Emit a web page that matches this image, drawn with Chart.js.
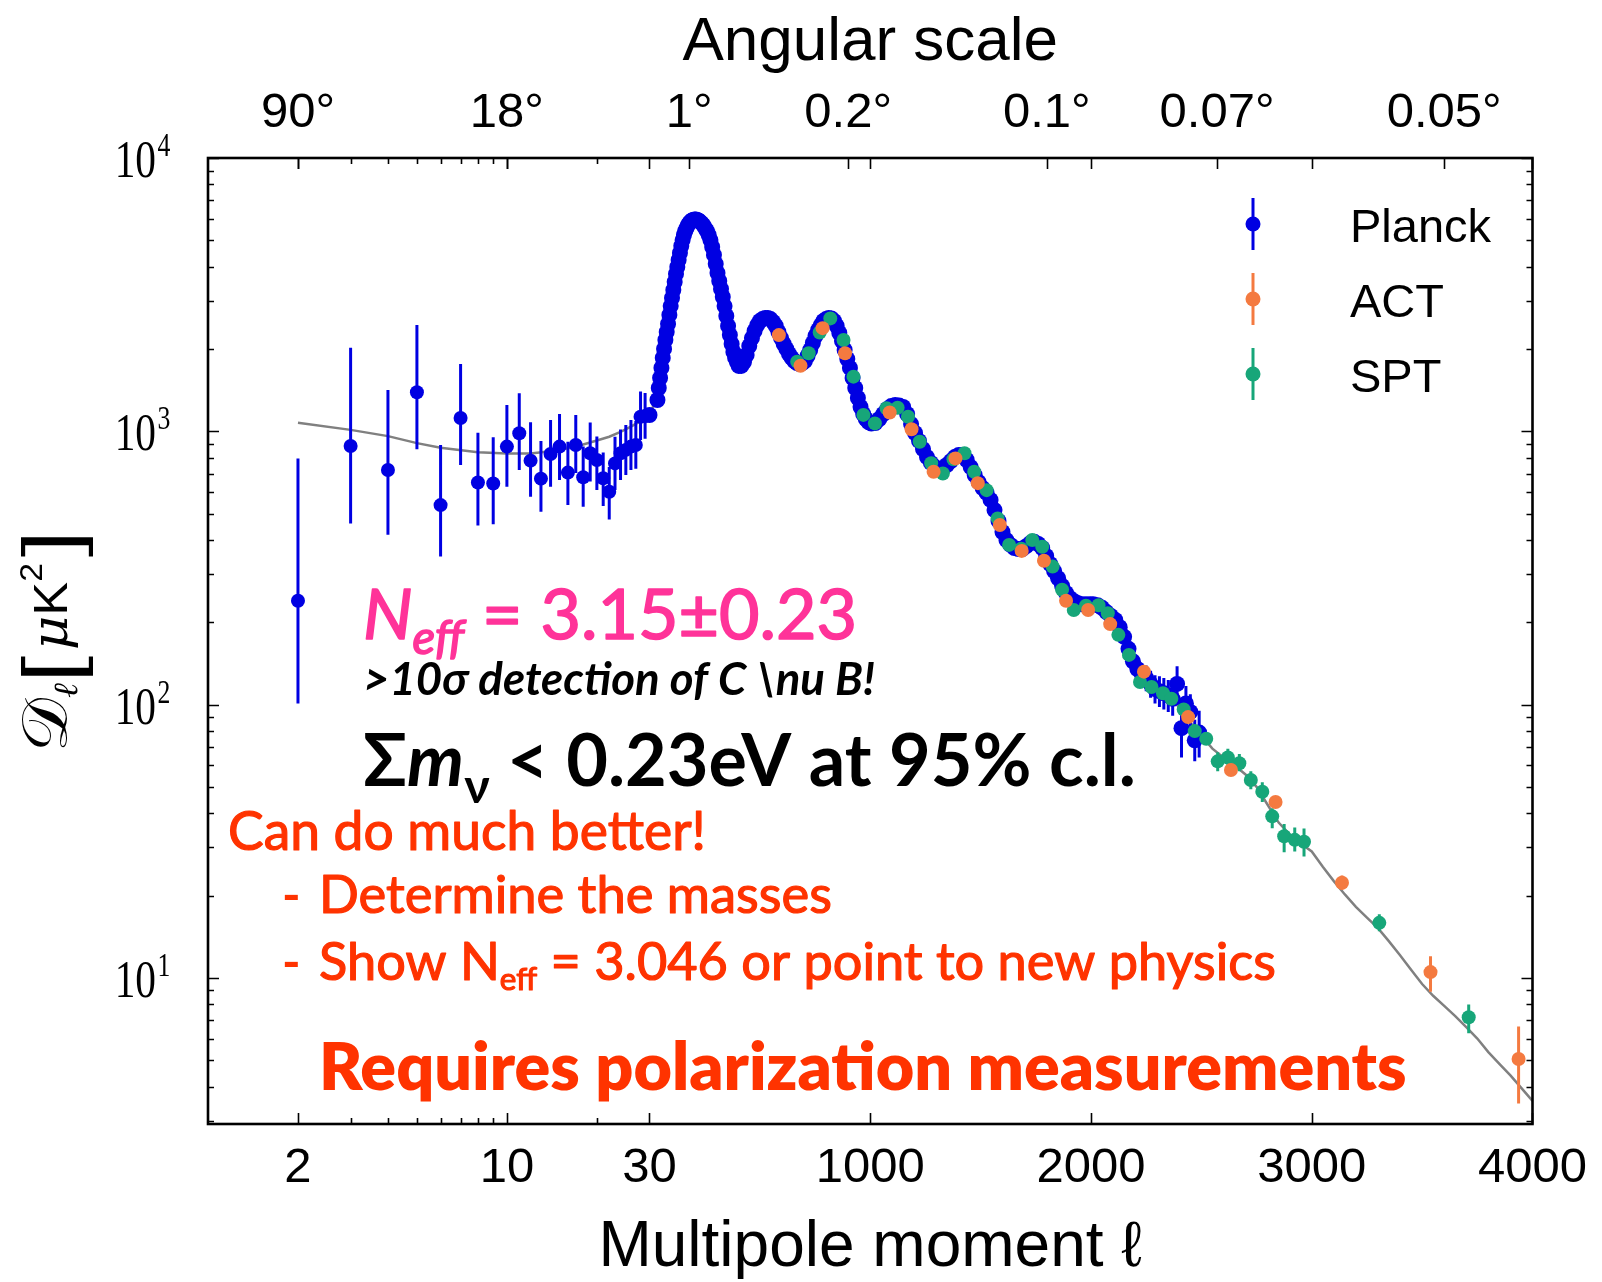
<!DOCTYPE html>
<html>
<head>
<meta charset="utf-8">
<title>CMB temperature power spectrum</title>
<script src="https://cdn.jsdelivr.net/npm/chart.js@4.4.1/dist/chart.umd.min.js"></script>
<style>
  html, body { margin: 0; padding: 0; background: #ffffff; }
  #wrap { position: relative; width: 1602px; height: 1282px; }
</style>
</head>
<body>
<div id="wrap"><canvas id="spectrum"></canvas></div>
<script>
// ---------------- data ----------------

// Planck, unbinned low multipoles: D_ell with the ends of each error bar
const planckLowEll = [2, 3, 4, 5, 6, 7, 8, 9, 10, 11, 12, 13, 14, 15, 16, 17, 18, 19, 20, 21, 22, 23, 24, 25, 26, 27, 28, 29];
const planckLowDl  = [240, 883, 722, 1389, 537, 1119, 650, 644, 879, 984, 781, 671, 826, 879, 706, 891, 679, 831, 785, 673, 601, 763, 831, 855, 879, 891, 1131, 1137];
const planckLowMin = [101, 460, 418, 859, 348, 753, 452, 457, 627, 721, 576, 508, 627, 663, 537, 703, 530, 655, 610, 533, 476, 610, 663, 692, 721, 729, 929, 940];
const planckLowMax = [796, 2021, 1416, 2449, 891, 1763, 988, 951, 1248, 1377, 1079, 922, 1099, 1157, 916, 1148, 879, 1076, 957, 836, 741, 955, 1016, 1054, 1099, 1090, 1397, 1380];

// Planck, binned spectrum (error bars smaller than the markers)
const planckBinEll = [
  30, 36, 42, 48, 54, 60, 66, 72, 78, 84, 90, 96, 102, 108, 114, 120, 126, 132, 138, 144, 150, 156, 162, 168, 174, 180, 186, 192, 198, 204, 210, 216, 222,
  228, 236, 244, 252, 260, 268, 276, 284, 292, 300, 308, 316, 324, 332, 340, 348, 356, 364, 372, 380, 388, 396,
  404, 416, 428, 440, 452, 464, 476, 488, 500, 512, 524, 536, 548, 560, 572, 584, 596, 608, 620, 632, 644, 656, 668, 680, 692,
  704, 716, 728, 740, 752, 764, 776, 788, 800, 812, 824, 836, 848, 860, 872, 884, 896, 908, 920, 932, 944, 956, 968, 980, 992,
  1005, 1023, 1041, 1059, 1077, 1095, 1113, 1131, 1149, 1167, 1185, 1203, 1221, 1239, 1257, 1275, 1293, 1311, 1329, 1347, 1365, 1383, 1401, 1419, 1437, 1455, 1473, 1491,
  1509, 1527, 1545, 1563, 1581, 1599, 1617, 1635, 1653, 1671, 1689, 1707, 1725, 1743, 1761, 1779, 1797, 1815, 1833, 1851, 1869, 1887, 1905, 1923, 1941, 1959, 1977, 1995,
  2010, 2030, 2050, 2070, 2090, 2110, 2130, 2150, 2170, 2190, 2210, 2230
];
const planckBinDl = [
  1147, 1302, 1440, 1567, 1705, 1855, 2001, 2158, 2308, 2470, 2665, 2873, 3074, 3289, 3518, 3763, 3992, 4234, 4491, 4764, 5010, 5226, 5405, 5543, 5684, 5781, 5855, 5905, 5930, 5955, 5955, 5930, 5905,
  5855, 5781, 5684, 5543, 5405, 5226, 5010, 4724, 4418, 4094, 3795, 3548, 3316, 3101, 2873, 2642, 2428, 2251, 2086, 1951, 1855, 1793,
  1734, 1734, 1793, 1902, 2052, 2194, 2328, 2448, 2532, 2575, 2597, 2597, 2575, 2512, 2428, 2308, 2194, 2086, 2001, 1918, 1855, 1808, 1778, 1763, 1778,
  1808, 1886, 1984, 2104, 2232, 2348, 2448, 2532, 2575, 2597, 2586, 2532, 2428, 2289, 2140, 1984, 1839, 1705, 1567, 1440, 1324, 1227, 1157, 1109, 1081,
  1068, 1072, 1109, 1157, 1207, 1237, 1248, 1242, 1227, 1157, 1063, 986, 922, 861, 805, 766, 740, 728, 734, 753, 778, 805, 819, 819, 785, 740, 692, 652,
  620, 595, 561, 515, 470, 428, 400, 384, 374, 371, 371, 380, 390, 394, 387, 374, 350, 327, 308, 290, 272, 256, 245, 239, 235, 233, 233, 233,
  233, 231, 226, 218, 211, 204, 192, 177, 160, 144, 135, 129
];

// Planck, highest multipoles, where the error bars show
const planckTailEll = [2250, 2270, 2290, 2310, 2330, 2350, 2370, 2390, 2410, 2430, 2450, 2470, 2490];
const planckTailDl  = [125, 119, 114, 112, 110, 108, 105, 119, 82, 101, 94, 74, 79];
const planckTailMin = [112, 106, 101, 98, 96, 94, 91, 103, 64, 86, 80, 62, 64];
const planckTailMax = [139, 133, 128, 127, 125, 123, 120, 138, 100, 117, 109, 88, 95];

// ACT band powers
const actEll = [586, 684, 784, 886, 1088, 1187, 1287, 1386, 1487, 1587, 1686, 1787, 1887, 1987, 2087, 2240, 2440, 2634, 2836, 3137, 3538, 3937];
const actDl  = [2249, 1738, 2385, 1929, 1172, 1018, 711, 796, 646, 454, 365, 336, 240, 222, 197, 132, 90, 57.6, 44, 22.3, 10.5, 5.05];
const actBarEll = [3137, 3538, 3937];
const actBarMin = [21.0, 8.9, 3.47];
const actBarMax = [23.7, 12.0, 6.64];

// SPT band powers
const sptEll = [669, 721, 771, 819, 879, 924, 969, 1021, 1074, 1124, 1171, 1224, 1276, 1329, 1377, 1427, 1471, 1527, 1577, 1629, 1684, 1734, 1779, 1826, 1869,
                1922, 1977, 2034, 2076, 2124, 2172, 2222, 2274, 2326, 2364, 2420, 2470, 2522, 2574, 2620, 2672, 2724, 2776, 2821, 2875, 2923, 2965, 3306, 3711];
const sptDl  = [1798, 1929, 2300, 2589, 2158, 1585, 1148, 1069, 1214, 1220, 1131, 916, 764, 701, 790, 831, 711, 609, 480, 384, 372, 400, 378, 320, 263,
                222, 230, 231, 216, 180, 152, 121, 116, 110, 105, 96, 80, 75, 62, 64, 61, 53, 48, 39, 33, 32, 31.5, 15.9, 7.18];
const sptBarEll = [2574, 2620, 2672, 2724, 2776, 2821, 2875, 2923, 2965, 3306, 3711];
const sptBarMin = [57, 59, 57, 49, 44, 35.3, 28.8, 29.0, 27.8, 14.8, 6.27];
const sptBarMax = [67, 69, 66, 57, 52, 41.8, 36.6, 35.5, 35.2, 17.1, 8.0];

// Best-fit model curve
const theoryEll = [2, 3, 4, 5, 6, 8, 10, 12, 14, 16, 18, 20, 22, 24, 26, 28, 30, 40, 50, 60, 80, 100, 120, 140, 160, 180, 200,
  220, 240, 260, 280, 300, 320, 340, 360, 380, 400, 420, 440, 460, 480, 500, 520, 540, 560, 580, 600, 620, 640, 660, 680, 700,
  720, 740, 760, 780, 800, 820, 840, 860, 880, 900, 920, 940, 960, 980, 1000, 1020, 1040, 1060, 1080, 1100, 1120, 1140, 1160, 1180, 1200,
  1220, 1240, 1260, 1280, 1300, 1320, 1340, 1360, 1380, 1400, 1420, 1440, 1460, 1480, 1500, 1520, 1540, 1560, 1580, 1600,
  1620, 1640, 1660, 1680, 1700, 1720, 1740, 1760, 1780, 1800, 1820, 1840, 1860, 1880, 1900, 1920, 1940, 1960, 1980, 2000,
  2050, 2100, 2150, 2200, 2250, 2300, 2350, 2400, 2450, 2500, 2550, 2600, 2650, 2700, 2750, 2800, 2850, 2900, 2950, 3000,
  3050, 3100, 3150, 3200, 3250, 3300, 3350, 3400, 3450, 3500, 3550, 3600, 3650, 3700, 3750, 3800, 3850, 3900, 3950, 4000];
const theoryDl = [1075, 1012, 960, 905, 870, 838, 830, 830, 845, 867, 895, 925, 955, 995, 1040, 1090, 1140, 1380, 1620, 1855, 2390, 3000, 3760, 4580, 5350, 5780, 5940,
  5920, 5760, 5405, 4880, 4094, 3430, 2873, 2330, 1951, 1760, 1740, 1902, 2150, 2370, 2532, 2590, 2595, 2512, 2350, 2160, 2001, 1875, 1795, 1763, 1790,
  1910, 2104, 2310, 2480, 2575, 2595, 2510, 2289, 2030, 1800, 1567, 1365, 1200, 1109, 1070, 1072, 1108, 1157, 1212, 1242, 1248, 1236, 1190, 1090, 1000,
  925, 858, 798, 757, 735, 730, 745, 772, 800, 819, 818, 780, 725, 675, 636, 605, 570, 522, 472, 428,
  398, 380, 372, 371, 377, 388, 393, 388, 373, 346, 322, 302, 281, 262, 248, 240, 235, 233, 233, 233,
  227, 207, 180, 140, 125, 112, 106, 98, 86, 77, 69, 64, 60, 55.5, 50, 43, 37, 33.5, 31, 29,
  25.5, 22.6, 20.2, 18.2, 16.6, 15.2, 13.6, 12.1, 10.7, 9.5, 8.6, 7.9, 7.25, 6.6, 6.0, 5.35, 4.85, 4.4, 3.95, 3.55];

// Axis ticks
const bottomTickEll = [2, 10, 30, 1000, 2000, 3000, 4000];
const bottomTickLabels = ['2', '10', '30', '1000', '2000', '3000', '4000'];
const angularTickEll = [2, 10, 180, 900, 1800, 2571, 3600];
const angularTickLabels = ['90°', '18°', '1°', '0.2°', '0.1°', '0.07°', '0.05°'];
const yPowers = [1, 2, 3, 4];

// ---------------- colours ----------------
const BLUE = '#0000e2';
const ORANGE = '#f47a40';
const GREEN = '#17a679';
const GREY = '#808080';
const PINK = '#ff3399';
const RED = '#ff3300';

// ---------------- the ℓ axis: log up to 30, linear above ----------------
const LOG_BREAK = 30;
const ELL_MAX = 4000;
function ellToFraction(v) {
  if (v <= LOG_BREAK) return (Math.log(Math.max(v, 1)) / Math.log(LOG_BREAK)) / 3;
  return 1 / 3 + (2 / 3) * (v / ELL_MAX);
}
function fractionToEll(f) {
  if (f <= 1 / 3) return Math.exp(3 * f * Math.log(LOG_BREAK));
  return (f - 1 / 3) * 1.5 * ELL_MAX;
}
class HybridEllScale extends Chart.Scale {
  determineDataLimits() { this.min = 1; this.max = ELL_MAX; }
  buildTicks() { return (this.options.tickValues || []).map(v => ({ value: v })); }
  getLabelForValue(v) { return String(v); }
  getPixelForValue(v) { return this.getPixelForDecimal(ellToFraction(v)); }
  getValueForPixel(p) { return fractionToEll(this.getDecimalForPixel(p)); }
}
HybridEllScale.id = 'hybridEll';
HybridEllScale.defaults = {};
Chart.register(HybridEllScale);

const pts = (xs, ys) => xs.map((x, i) => ({ x, y: ys[i] }));

// ---------------- error bars under the markers ----------------
const errorBars = {
  id: 'errorBars',
  beforeDatasetDraw(chart, args) {
    const ds = chart.data.datasets[args.index];
    if (!ds.bars) return;
    const { ctx, chartArea: a } = chart;
    const xs = chart.scales.x, ys = chart.scales.y;
    ctx.save();
    ctx.beginPath();
    ctx.rect(a.left, a.top, a.right - a.left, a.bottom - a.top);
    ctx.clip();
    ctx.strokeStyle = ds.backgroundColor;
    ctx.lineWidth = 3;
    ds.bars.forEach(b => {
      b.ell.forEach((l, i) => {
        const px = xs.getPixelForValue(l);
        ctx.beginPath();
        ctx.moveTo(px, ys.getPixelForValue(b.lo[i]));
        ctx.lineTo(px, ys.getPixelForValue(b.hi[i]));
        ctx.stroke();
      });
    });
    ctx.restore();
  }
};

// ---------------- text with runs of different fonts ----------------
const NOTE_FONT = 'Lato, "Open Sans", sans-serif';
const fontOf = (r, k, family) => `${r.style || 'normal'} ${r.weight || 400} ${r.size * k}px ${r.family || family}`;
function runsWidth(ctx, runs, family) {
  let w = 0;
  runs.forEach(r => { ctx.font = fontOf(r, 1, family); w += ctx.measureText(r.t).width; });
  return w;
}
// draws a line of text runs; `heavy` adds an outline in the text colour to thicken the strokes
function drawRuns(ctx, runs, x, y, color, width, family, heavy) {
  const k = width ? width / runsWidth(ctx, runs, family) : 1;
  ctx.fillStyle = color;
  ctx.strokeStyle = color;
  ctx.lineJoin = 'round';
  ctx.textAlign = 'left';
  ctx.textBaseline = 'alphabetic';
  let cx = x;
  runs.forEach(r => {
    ctx.font = fontOf(r, k, family);
    const ty = y + (r.dy || 0) * k;
    ctx.fillText(r.t, cx, ty);
    if (heavy) { ctx.lineWidth = heavy; ctx.strokeText(r.t, cx, ty); }
    cx += ctx.measureText(r.t).width;
  });
}

const notes = [
  { x: 363, y: 639, width: 494, color: PINK, heavy: 1.6, runs: [
    { t: 'N', style: 'italic', size: 62 },
    { t: 'eff', style: 'italic', size: 42, dy: 13 },
    { t: ' = 3.15±0.23', size: 62 }] },
  { x: 363, y: 695, width: 512, color: '#000000', runs: [
    { t: '>10σ detection of C \\nu B!', style: 'italic', weight: 700, size: 34 }] },
  { x: 363, y: 786, width: 773, color: '#000000', runs: [
    { t: 'Σ', weight: 700, size: 68 },
    { t: 'm', style: 'italic', weight: 700, size: 68 },
    { t: 'ν', weight: 700, size: 46, dy: 16 },
    { t: ' < 0.23eV at 95% c.l.', weight: 700, size: 68 }] },
  { x: 228, y: 850, width: 478, color: RED, heavy: 1.2, runs: [{ t: 'Can do much better!', size: 50 }] },
  { x: 282, y: 913, width: 0, color: RED, runs: [{ t: '-', weight: 700, size: 50 }] },
  { x: 319, y: 913, width: 513, color: RED, heavy: 1.2, runs: [{ t: 'Determine the masses', size: 50 }] },
  { x: 282, y: 980, width: 0, color: RED, runs: [{ t: '-', weight: 700, size: 50 }] },
  { x: 319, y: 980, width: 957, color: RED, heavy: 1.2, runs: [
    { t: 'Show N', size: 50 },
    { t: 'eff', size: 30, dy: 10 },
    { t: ' = 3.046 or point to new physics', size: 50 }] },
  { x: 319, y: 1090, width: 1088, color: RED, runs: [{ t: 'Requires polarization measurements', weight: 800, size: 56 }] }
];

// y axis title: script D with subscript ell, in enlarged brackets
const yTitleRuns = [
  { t: '𝒟', size: 64, family: '"DejaVu Serif", "DejaVu Sans", serif' },
  { t: 'ℓ', style: 'italic', size: 34, dy: 10, family: '"DejaVu Serif", serif' },
  { t: '[', size: 80, dy: 15, family: '"DejaVu Serif", serif' },
  { t: 'μ', style: 'italic', size: 50, family: '"DejaVu Serif", serif' },
  { t: 'K', size: 48, family: '"Liberation Sans", sans-serif' },
  { t: '2', size: 32, dy: -25, family: '"Liberation Sans", sans-serif' },
  { t: ']', size: 80, dy: 15, family: '"DejaVu Serif", serif' }
];

// ---------------- frame, inward ticks, labels, legend, notes ----------------
const decorations = {
  id: 'decorations',
  afterDraw(chart) {
    const { ctx, chartArea: a } = chart;
    const xs = chart.scales.x, ys = chart.scales.y;
    ctx.save();

    // inward tick marks on all four sides
    ctx.strokeStyle = '#000';
    ctx.lineWidth = 1.6;
    const MAJOR = 11, MINOR = 6;
    const xMinor = [3, 4, 5, 6, 7, 8, 9, 20];
    const vTick = (l, len) => {
      const px = Math.round(xs.getPixelForValue(l)) + 0.5;
      ctx.beginPath();
      ctx.moveTo(px, a.bottom); ctx.lineTo(px, a.bottom - len);
      ctx.moveTo(px, a.top); ctx.lineTo(px, a.top + len);
      ctx.stroke();
    };
    bottomTickEll.forEach(l => vTick(l, MAJOR));
    xMinor.forEach(l => vTick(l, MINOR));
    angularTickEll.forEach(l => {
      const px = Math.round(xs.getPixelForValue(l)) + 0.5;
      ctx.beginPath(); ctx.moveTo(px, a.top); ctx.lineTo(px, a.top + MAJOR); ctx.stroke();
    });
    const hTick = (v, len) => {
      const py = Math.round(ys.getPixelForValue(v)) + 0.5;
      if (py < a.top || py > a.bottom) return;
      ctx.beginPath();
      ctx.moveTo(a.left, py); ctx.lineTo(a.left + len, py);
      ctx.moveTo(a.right, py); ctx.lineTo(a.right - len, py);
      ctx.stroke();
    };
    for (let p = 0; p <= 3; p++) {
      for (let m = 1; m <= 9; m++) {
        const v = m * Math.pow(10, p);
        if (v < ys.min) continue;
        hTick(v, m === 1 ? MAJOR : MINOR);
      }
    }
    hTick(10000, MAJOR);

    // frame
    ctx.lineWidth = 2.6;
    ctx.strokeRect(a.left, a.top, a.right - a.left, a.bottom - a.top);

    // y tick labels as powers of ten (narrow, tall digits)
    ctx.fillStyle = '#000';
    ctx.textBaseline = 'alphabetic';
    yPowers.forEach(p => {
      const py = ys.getPixelForValue(Math.pow(10, p));
      ctx.save();
      ctx.translate(156, py);
      ctx.scale(0.78, 1);
      ctx.font = '53px "Liberation Serif", serif';
      ctx.textAlign = 'right';
      ctx.fillText('10', 0, 19);
      ctx.font = '33px "Liberation Serif", serif';
      ctx.textAlign = 'left';
      ctx.fillText(String(p), 2, -2);
      ctx.restore();
    });

    // y axis title, rotated and fitted to its length
    ctx.save();
    ctx.translate(58, (a.top + a.bottom) / 2);
    ctx.rotate(-Math.PI / 2);
    const tw = runsWidth(ctx, yTitleRuns, 'serif');
    ctx.scale(222 / tw, 1);
    drawRuns(ctx, yTitleRuns, -tw / 2, 9, '#000', 0, 'serif', 0);
    ctx.restore();

    // legend
    const rows = [224, 299, 374];
    [1, 2, 3].forEach((di, r) => {
      const ds = chart.data.datasets[di];
      const cy = rows[r];
      ctx.strokeStyle = ds.backgroundColor;
      ctx.fillStyle = ds.backgroundColor;
      ctx.lineWidth = 3;
      ctx.beginPath(); ctx.moveTo(1253, cy - 26); ctx.lineTo(1253, cy + 26); ctx.stroke();
      ctx.beginPath(); ctx.arc(1253, cy, 7.5, 0, Math.PI * 2); ctx.fill();
      ctx.fillStyle = '#000';
      ctx.font = '47px "Liberation Sans", sans-serif';
      ctx.textAlign = 'left';
      ctx.textBaseline = 'alphabetic';
      ctx.fillText(ds.label, 1350, cy + 18);
    });

    // notes
    notes.forEach(n => drawRuns(ctx, n.runs, n.x, n.y, n.color, n.width, NOTE_FONT, n.heavy || 0));

    ctx.restore();
  }
};

// ---------------- chart ----------------
Chart.defaults.font.family = '"Liberation Sans", sans-serif';
Chart.defaults.color = '#000';

const markerStyle = (color, radius) => ({
  showLine: false,
  pointRadius: radius,
  pointHoverRadius: radius,
  pointBorderWidth: 0,
  backgroundColor: color,
  borderColor: color
});

new Chart(document.getElementById('spectrum'), {
  type: 'scatter',
  data: {
    datasets: [
      { label: 'Model', data: pts(theoryEll, theoryDl), showLine: true, borderColor: GREY, backgroundColor: GREY,
        borderWidth: 2.5, pointRadius: 0, order: 3 },
      { label: 'Planck', ...markerStyle(BLUE, c => (c.raw && c.raw.x < 30 ? 7 : 8)), order: 2,
        data: pts(planckLowEll, planckLowDl).concat(pts(planckBinEll, planckBinDl), pts(planckTailEll, planckTailDl)),
        bars: [{ ell: planckLowEll, lo: planckLowMin, hi: planckLowMax }, { ell: planckTailEll, lo: planckTailMin, hi: planckTailMax }] },
      { label: 'ACT', ...markerStyle(ORANGE, 7), order: 0,
        data: pts(actEll, actDl), bars: [{ ell: actBarEll, lo: actBarMin, hi: actBarMax }] },
      { label: 'SPT', ...markerStyle(GREEN, 7), order: 1,
        data: pts(sptEll, sptDl), bars: [{ ell: sptBarEll, lo: sptBarMin, hi: sptBarMax }] }
    ]
  },
  options: {
    responsive: true,
    maintainAspectRatio: false,
    animation: false,
    events: [],
    layout: { padding: 0 },
    plugins: { legend: { display: false }, tooltip: { enabled: false } },
    scales: {
      x: {
        type: 'hybridEll', position: 'bottom', tickValues: bottomTickEll,
        grid: { display: false, drawTicks: false }, border: { display: false },
        ticks: { autoSkip: false, maxRotation: 0, padding: 15, color: '#000',
                 font: { family: '"Liberation Sans", sans-serif', size: 49 },
                 callback: (v, i) => bottomTickLabels[i] },
        title: { display: true, text: 'Multipole moment ℓ', color: '#000',
                 font: { family: '"Liberation Sans", sans-serif', size: 64, lineHeight: 1.04 }, padding: { top: 0, bottom: 0 } },
        afterFit: s => { s.height = 158; }
      },
      xTop: {
        type: 'hybridEll', position: 'top', tickValues: angularTickEll,
        grid: { display: false, drawTicks: false }, border: { display: false },
        ticks: { autoSkip: false, maxRotation: 0, padding: 15, color: '#000',
                 font: { family: '"Liberation Sans", sans-serif', size: 49 },
                 callback: (v, i) => angularTickLabels[i] },
        title: { display: true, text: 'Angular scale', color: '#000',
                 font: { family: '"Liberation Sans", sans-serif', size: 62 }, padding: { top: 6, bottom: 0 } },
        afterFit: s => { s.height = 158; }
      },
      y: {
        type: 'logarithmic', position: 'left', min: 2.92, max: 10000,
        ticks: { display: false }, grid: { display: false, drawTicks: false }, border: { display: false },
        afterFit: s => { s.width = 208; }
      },
      yR: {
        type: 'logarithmic', position: 'right', min: 2.92, max: 10000,
        ticks: { display: false }, grid: { display: false, drawTicks: false }, border: { display: false },
        afterFit: s => { s.width = 62; }
      }
    }
  },
  plugins: [errorBars, decorations]
});
</script>
</body>
</html>
